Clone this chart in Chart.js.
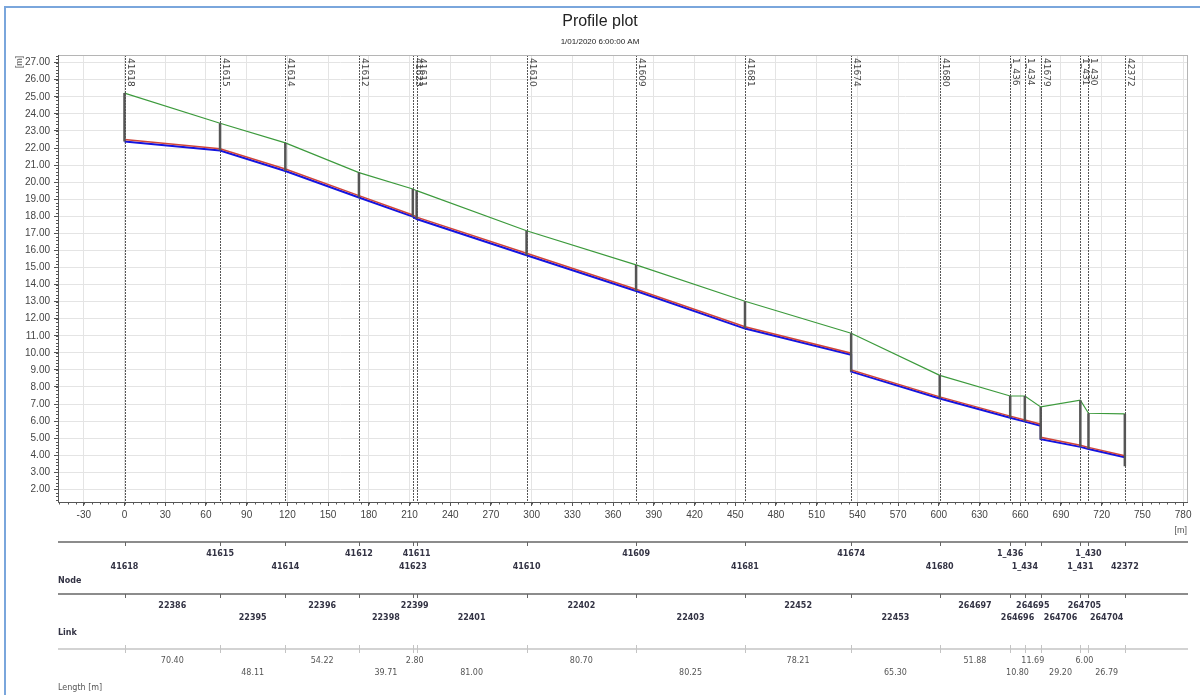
<!DOCTYPE html>
<html>
<head>
<meta charset="utf-8">
<script src="https://cdn.jsdelivr.net/npm/chart.js@4/dist/chart.umd.min.js"></script>
<style>
  body { margin: 0; background: #fff; }
  #wrap { width: 1200px; height: 695px; }
</style>
</head>
<body>
<div id="wrap"><canvas id="profile" width="1200" height="695"></canvas></div>
<script>
// nodes along the profile, chainage in m
const chainage = [0, 70.40, 118.51, 172.73, 212.44, 215.24, 296.24, 376.94, 457.19, 535.40, 600.70, 652.58, 663.38, 675.07, 704.27, 710.27, 737.06];
const nodeIds = ['41618', '41615', '41614', '41612', '41623', '41611', '41610', '41609', '41681', '41674', '41680', '1_436', '1_434', '41679', '1_431', '1_430', '42372'];
// the table below the plot leaves 41679 out
const tableNodeIds = ['41618', '41615', '41614', '41612', '41623', '41611', '41610', '41609', '41681', '41674', '41680', '1_436', '1_434', '', '1_431', '1_430', '42372'];

const groundLevel = [25.22, 23.45, 22.30, 20.56, 19.60, 19.50, 17.15, 15.15, 13.02, 11.15, 8.68, 7.47, 7.47, 6.83, 7.22, 6.46, 6.42];
const invertIn = [22.38, 21.85, 20.65, 19.10, 17.98, 17.84, 15.72, 13.62, 11.42, 9.88, 7.32, 6.20, 5.97, 5.72, 4.49, 4.37, 3.88];
const invertOut = [22.38, 21.85, 20.65, 19.10, 17.98, 17.84, 15.72, 13.62, 11.42, 8.90, 7.32, 6.20, 5.97, 4.94, 4.49, 4.37, 3.88];
const waterIn = [22.50, 21.96, 20.77, 19.21, 18.08, 17.95, 15.83, 13.73, 11.53, 9.98, 7.42, 6.29, 6.06, 5.82, 4.58, 4.46, 3.97];
const waterOut = [22.50, 21.96, 20.77, 19.21, 18.08, 17.95, 15.83, 13.73, 11.53, 9.00, 7.42, 6.29, 6.06, 5.05, 4.58, 4.46, 3.97];
const manholeBottom = [22.38, 21.85, 20.65, 19.10, 17.98, 17.84, 15.72, 13.62, 11.42, 8.90, 7.32, 6.20, 5.97, 4.94, 4.49, 4.37, 3.35];

const linkIds = ['22386', '22395', '22396', '22398', '22399', '22401', '22402', '22403', '22452', '22453', '264697', '264696', '264695', '264706', '264705', '264704'];
const linkLengths = ['70.40', '48.11', '54.22', '39.71', '2.80', '81.00', '80.70', '80.25', '78.21', '65.30', '51.88', '10.80', '11.69', '29.20', '6.00', '26.79'];

const xTicks = [-30, 0, 30, 60, 90, 120, 150, 180, 210, 240, 270, 300, 330, 360, 390, 420, 450, 480, 510, 540, 570, 600, 630, 660, 690, 720, 750, 780];
const yTicks = [2, 3, 4, 5, 6, 7, 8, 9, 10, 11, 12, 13, 14, 15, 16, 17, 18, 19, 20, 21, 22, 23, 24, 25, 26, 27];

const plotTitle = 'Profile plot';
const plotTime = '1/01/2020 6:00:00 AM';

function stepLine(levIn, levOut) {
  let pts = [];
  for (let i = 0; i < chainage.length; i++) {
    pts.push({x: chainage[i], y: levIn[i]});
    if (levOut[i] !== levIn[i]) pts.push({x: chainage[i], y: levOut[i]});
  }
  return pts;
}
let manholes = [];
for (let i = 0; i < chainage.length; i++) {
  manholes.push({x: chainage[i], y: manholeBottom[i]});
  manholes.push({x: chainage[i], y: groundLevel[i]});
  manholes.push({x: chainage[i], y: null});
}

const extras = {
  id: 'extras',
  beforeDatasetsDraw(chart) {
    const ctx = chart.ctx, a = chart.chartArea, xs = chart.scales.x;
    ctx.save();
    // node lines
    ctx.strokeStyle = '#555';
    ctx.lineWidth = 1;
    ctx.setLineDash([2, 1]);
    chainage.forEach(c => {
      const px = Math.round(xs.getPixelForValue(c)) + 0.5;
      ctx.beginPath(); ctx.moveTo(px, a.top); ctx.lineTo(px, a.bottom); ctx.stroke();
    });
    ctx.setLineDash([]);
    ctx.fillStyle = '#444';
    ctx.font = '9px "DejaVu Sans"';
    ctx.textAlign = 'left';
    ctx.textBaseline = 'bottom';
    chainage.forEach((c, i) => {
      const px = Math.round(xs.getPixelForValue(c));
      ctx.save();
      ctx.translate(px + 1, a.top + 3);
      ctx.rotate(Math.PI / 2);
      ctx.fillText(nodeIds[i], 0, 0);
      ctx.restore();
    });
    ctx.restore();
  },
  afterDraw(chart) {
    const ctx = chart.ctx, a = chart.chartArea, xs = chart.scales.x, ys = chart.scales.y;
    ctx.save();
    // frame
    ctx.strokeStyle = '#7aa6dc';
    ctx.lineWidth = 2;
    ctx.beginPath(); ctx.moveTo(5, 695); ctx.lineTo(5, 7); ctx.lineTo(1200, 7); ctx.stroke();
    // plot border
    ctx.lineWidth = 1;
    ctx.strokeStyle = '#b5b5b5';
    ctx.strokeRect(a.left + 0.5, a.top + 0.5, a.right - a.left - 1, a.bottom - a.top);
    ctx.strokeStyle = '#555';
    ctx.beginPath();
    ctx.moveTo(a.left + 0.5, a.top); ctx.lineTo(a.left + 0.5, a.bottom + 0.5); ctx.lineTo(a.right, a.bottom + 0.5);
    ctx.stroke();
    // minor ticks
    ctx.beginPath();
    for (let v = -48; v <= 783; v += 6) {
      const px = Math.round(xs.getPixelForValue(v)) + 0.5;
      ctx.moveTo(px, a.bottom); ctx.lineTo(px, a.bottom + 2.5);
    }
    for (let v = 1.4; v <= 27.4; v += 0.2) {
      const py = Math.round(ys.getPixelForValue(v)) + 0.5;
      ctx.moveTo(a.left - 2, py); ctx.lineTo(a.left, py);
    }
    ctx.stroke();
    // titles
    ctx.fillStyle = '#222';
    ctx.textAlign = 'center';
    ctx.textBaseline = 'middle';
    ctx.font = '16px "Liberation Sans"';
    ctx.fillText(plotTitle, 600, 22);
    ctx.font = '8px "Liberation Sans"';
    ctx.fillText(plotTime, 600, 42);
    // axis units
    ctx.fillStyle = '#555';
    ctx.font = '9px "Liberation Sans"';
    ctx.save();
    ctx.translate(20, 62);
    ctx.rotate(-Math.PI / 2);
    ctx.fillText('[m]', 0, 0);
    ctx.restore();
    ctx.textAlign = 'right';
    ctx.fillText('[m]', a.right - 1, 531);

    // table
    const rows = [
      {y: 542, color: '#666', tick: 'down'},
      {y: 594, color: '#666', tick: 'down'},
      {y: 649, color: '#c4c4c4', tick: 'both'}
    ];
    rows.forEach(r => {
      ctx.strokeStyle = r.color;
      ctx.lineWidth = 1.5;
      ctx.beginPath(); ctx.moveTo(a.left, r.y); ctx.lineTo(a.right, r.y); ctx.stroke();
      ctx.lineWidth = 1;
      ctx.beginPath();
      chainage.forEach(c => {
        const px = Math.round(xs.getPixelForValue(c)) + 0.5;
        ctx.moveTo(px, r.tick === 'both' ? r.y - 4 : r.y); ctx.lineTo(px, r.y + 4);
      });
      ctx.stroke();
    });
    ctx.textAlign = 'center';
    ctx.fillStyle = '#333344';
    ctx.font = 'bold 8px "DejaVu Sans"';
    tableNodeIds.forEach((n, i) => {
      ctx.fillText(n, xs.getPixelForValue(chainage[i]), i % 2 ? 554 : 567);
    });
    linkIds.forEach((l, i) => {
      const mid = (chainage[i] + chainage[i + 1]) / 2;
      ctx.fillText(l, xs.getPixelForValue(mid), i % 2 ? 618 : 606);
    });
    ctx.textAlign = 'left';
    ctx.fillText('Node', a.left, 581);
    ctx.fillText('Link', a.left, 633);
    ctx.fillStyle = '#555';
    ctx.font = '8px "DejaVu Sans"';
    ctx.fillText('Length [m]', a.left, 688);
    ctx.textAlign = 'center';
    linkLengths.forEach((l, i) => {
      const mid = (chainage[i] + chainage[i + 1]) / 2;
      ctx.fillText(l, xs.getPixelForValue(mid), i % 2 ? 673 : 661);
    });
    ctx.restore();
  }
};

var ctx = document.getElementById('profile').getContext('2d');
var chart = new Chart(ctx, {
  type: 'line',
  data: {
    datasets: [{
      label: 'Manholes',
      data: manholes,
      borderColor: '#555',
      borderWidth: 2.5,
      spanGaps: false
    }, {
      label: 'Ground',
      data: chainage.map((c, i) => ({x: c, y: groundLevel[i]})),
      borderColor: '#3c9a3c',
      borderWidth: 1.2
    }, {
      label: 'Water level',
      data: stepLine(waterIn, waterOut),
      borderColor: '#d0453a',
      borderWidth: 1.5
    }, {
      label: 'Invert',
      data: stepLine(invertIn, invertOut),
      borderColor: '#1414e0',
      borderWidth: 2
    }]
  },
  options: {
    responsive: false,
    animation: false,
    layout: { padding: { left: 0, right: 12, top: 55, bottom: 163 } },
    elements: { point: { radius: 0 }, line: { tension: 0 } },
    plugins: { legend: { display: false }, tooltip: { enabled: false } },
    scales: {
      x: {
        type: 'linear',
        min: -49,
        max: 783.6,
        afterFit: s => { s.height = 30; },
        afterBuildTicks: s => { s.ticks = xTicks.map(v => ({value: v})); },
        grid: { color: '#e4e4e4', tickColor: '#555', tickLength: 4 },
        border: { display: false },
        ticks: { color: '#444', font: { family: 'Liberation Sans', size: 10 }, padding: 3, maxRotation: 0 }
      },
      y: {
        min: 1.26,
        max: 27.45,
        afterFit: s => { s.width = 58; },
        afterBuildTicks: s => { s.ticks = yTicks.map(v => ({value: v})); },
        grid: { color: '#e4e4e4', tickColor: '#555', tickLength: 4 },
        border: { display: false },
        ticks: { color: '#444', font: { family: 'Liberation Sans', size: 10 }, padding: 4,
          callback: v => v.toFixed(2) }
      }
    }
  },
  plugins: [extras]
});
</script>
</body>
</html>
